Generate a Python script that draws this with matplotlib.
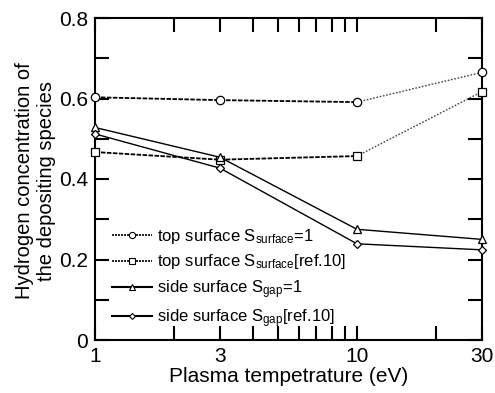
import matplotlib
matplotlib.use("Agg")
import matplotlib.pyplot as plt
from matplotlib.ticker import FixedLocator, NullFormatter, FixedFormatter

plt.rcParams['font.family'] = ['Liberation Sans', 'DejaVu Sans']
plt.rcParams['mathtext.fontset'] = 'custom'
plt.rcParams['mathtext.rm'] = 'Liberation Sans'
plt.rcParams['mathtext.it'] = 'Liberation Sans'

temps = [1, 3, 10, 30]
top_s1 = [0.603, 0.596, 0.591, 0.665]
top_ref = [0.467, 0.448, 0.457, 0.617]
side_s1 = [0.528, 0.454, 0.275, 0.250]
side_ref = [0.512, 0.427, 0.239, 0.224]

labels = ['top surface S$_{\\mathrm{surface}}$=1',
          'top surface S$_{\\mathrm{surface}}$[ref.10]',
          'side surface S$_{\\mathrm{gap}}$=1',
          'side surface S$_{\\mathrm{gap}}$[ref.10]']
xticks = [1, 3, 10, 30]
yticks = [0, 0.2, 0.4, 0.6, 0.8]

fig = plt.figure(figsize=(4.95, 3.93), dpi=100)
ax = fig.add_axes([95/495, 1-340/393, 387/495, 322/393])
ax.set_xscale('log')

mk = dict(markerfacecolor='white', markeredgecolor='black', markeredgewidth=0.9, clip_on=False, zorder=5)
lmk = dict(markerfacecolor='white', markeredgecolor='black', markeredgewidth=0.8)

# top surface lines: dashed for first segments, dotted for last
for ys, m, ms, lab in [(top_s1, 'o', 6, labels[0]), (top_ref, 's', 6, labels[1])]:
    ax.plot(temps[:3], ys[:3], color='black', lw=1.3, ls=(0, (2.5, 0.8)), zorder=3)
    ax.plot(temps[2:], ys[2:], color='#444444', lw=1.0, ls=(0, (1.2, 1.2)), zorder=3)
    ax.plot(temps, ys, ls='none', marker=m, ms=ms, **mk)
    ax.plot([], [], color='black', lw=1.2, ls=(0, (1.2, 0.6)), marker=m, ms=4.5, label=lab, **lmk)

for ys, m, ms, lab in [(side_s1, '^', 6, labels[2]), (side_ref, 'D', 4.5, labels[3])]:
    ax.plot(temps, ys, color='black', lw=1.0, marker=m, ms=ms, **mk)
    ax.plot([], [], color='black', lw=1.5, marker=m, ms=ms - 1.5, label=lab, **lmk)

ax.set_xlim(1, 30)
ax.set_ylim(0, 0.8)

ax.xaxis.set_major_locator(FixedLocator(xticks))
ax.xaxis.set_major_formatter(FixedFormatter([str(v) for v in xticks]))
ax.xaxis.set_minor_locator(FixedLocator([2, 4, 5, 6, 7, 8, 9, 20]))
ax.xaxis.set_minor_formatter(NullFormatter())
ax.yaxis.set_major_locator(FixedLocator(yticks))
ax.yaxis.set_major_formatter(FixedFormatter(['0', '0.2', '0.4', '0.6', '0.8']))
ax.yaxis.set_minor_locator(FixedLocator([0.1, 0.3, 0.5, 0.7]))

ax.tick_params(which='both', direction='in', top=True, right=True, width=1.5, length=10,
               labelsize=15, pad=5)
for s in ax.spines.values():
    s.set_linewidth(1.5)

ax.set_xlabel('Plasma tempetrature (eV)', fontsize=15, labelpad=1)
ax.set_ylabel('Hydrogen concentration of\nthe depositing species', fontsize=14.5,
              linespacing=1.2)
ax.yaxis.set_label_coords(-0.100, 0.495)

leg = ax.legend(loc='lower left', bbox_to_anchor=(17/387, 10/322), frameon=False, fontsize=12,
                handlelength=2.4, handletextpad=0.3, labelspacing=0.4, borderaxespad=0.0,
                borderpad=0.0, markerfirst=True)

fig.savefig('out.png', dpi=100)
